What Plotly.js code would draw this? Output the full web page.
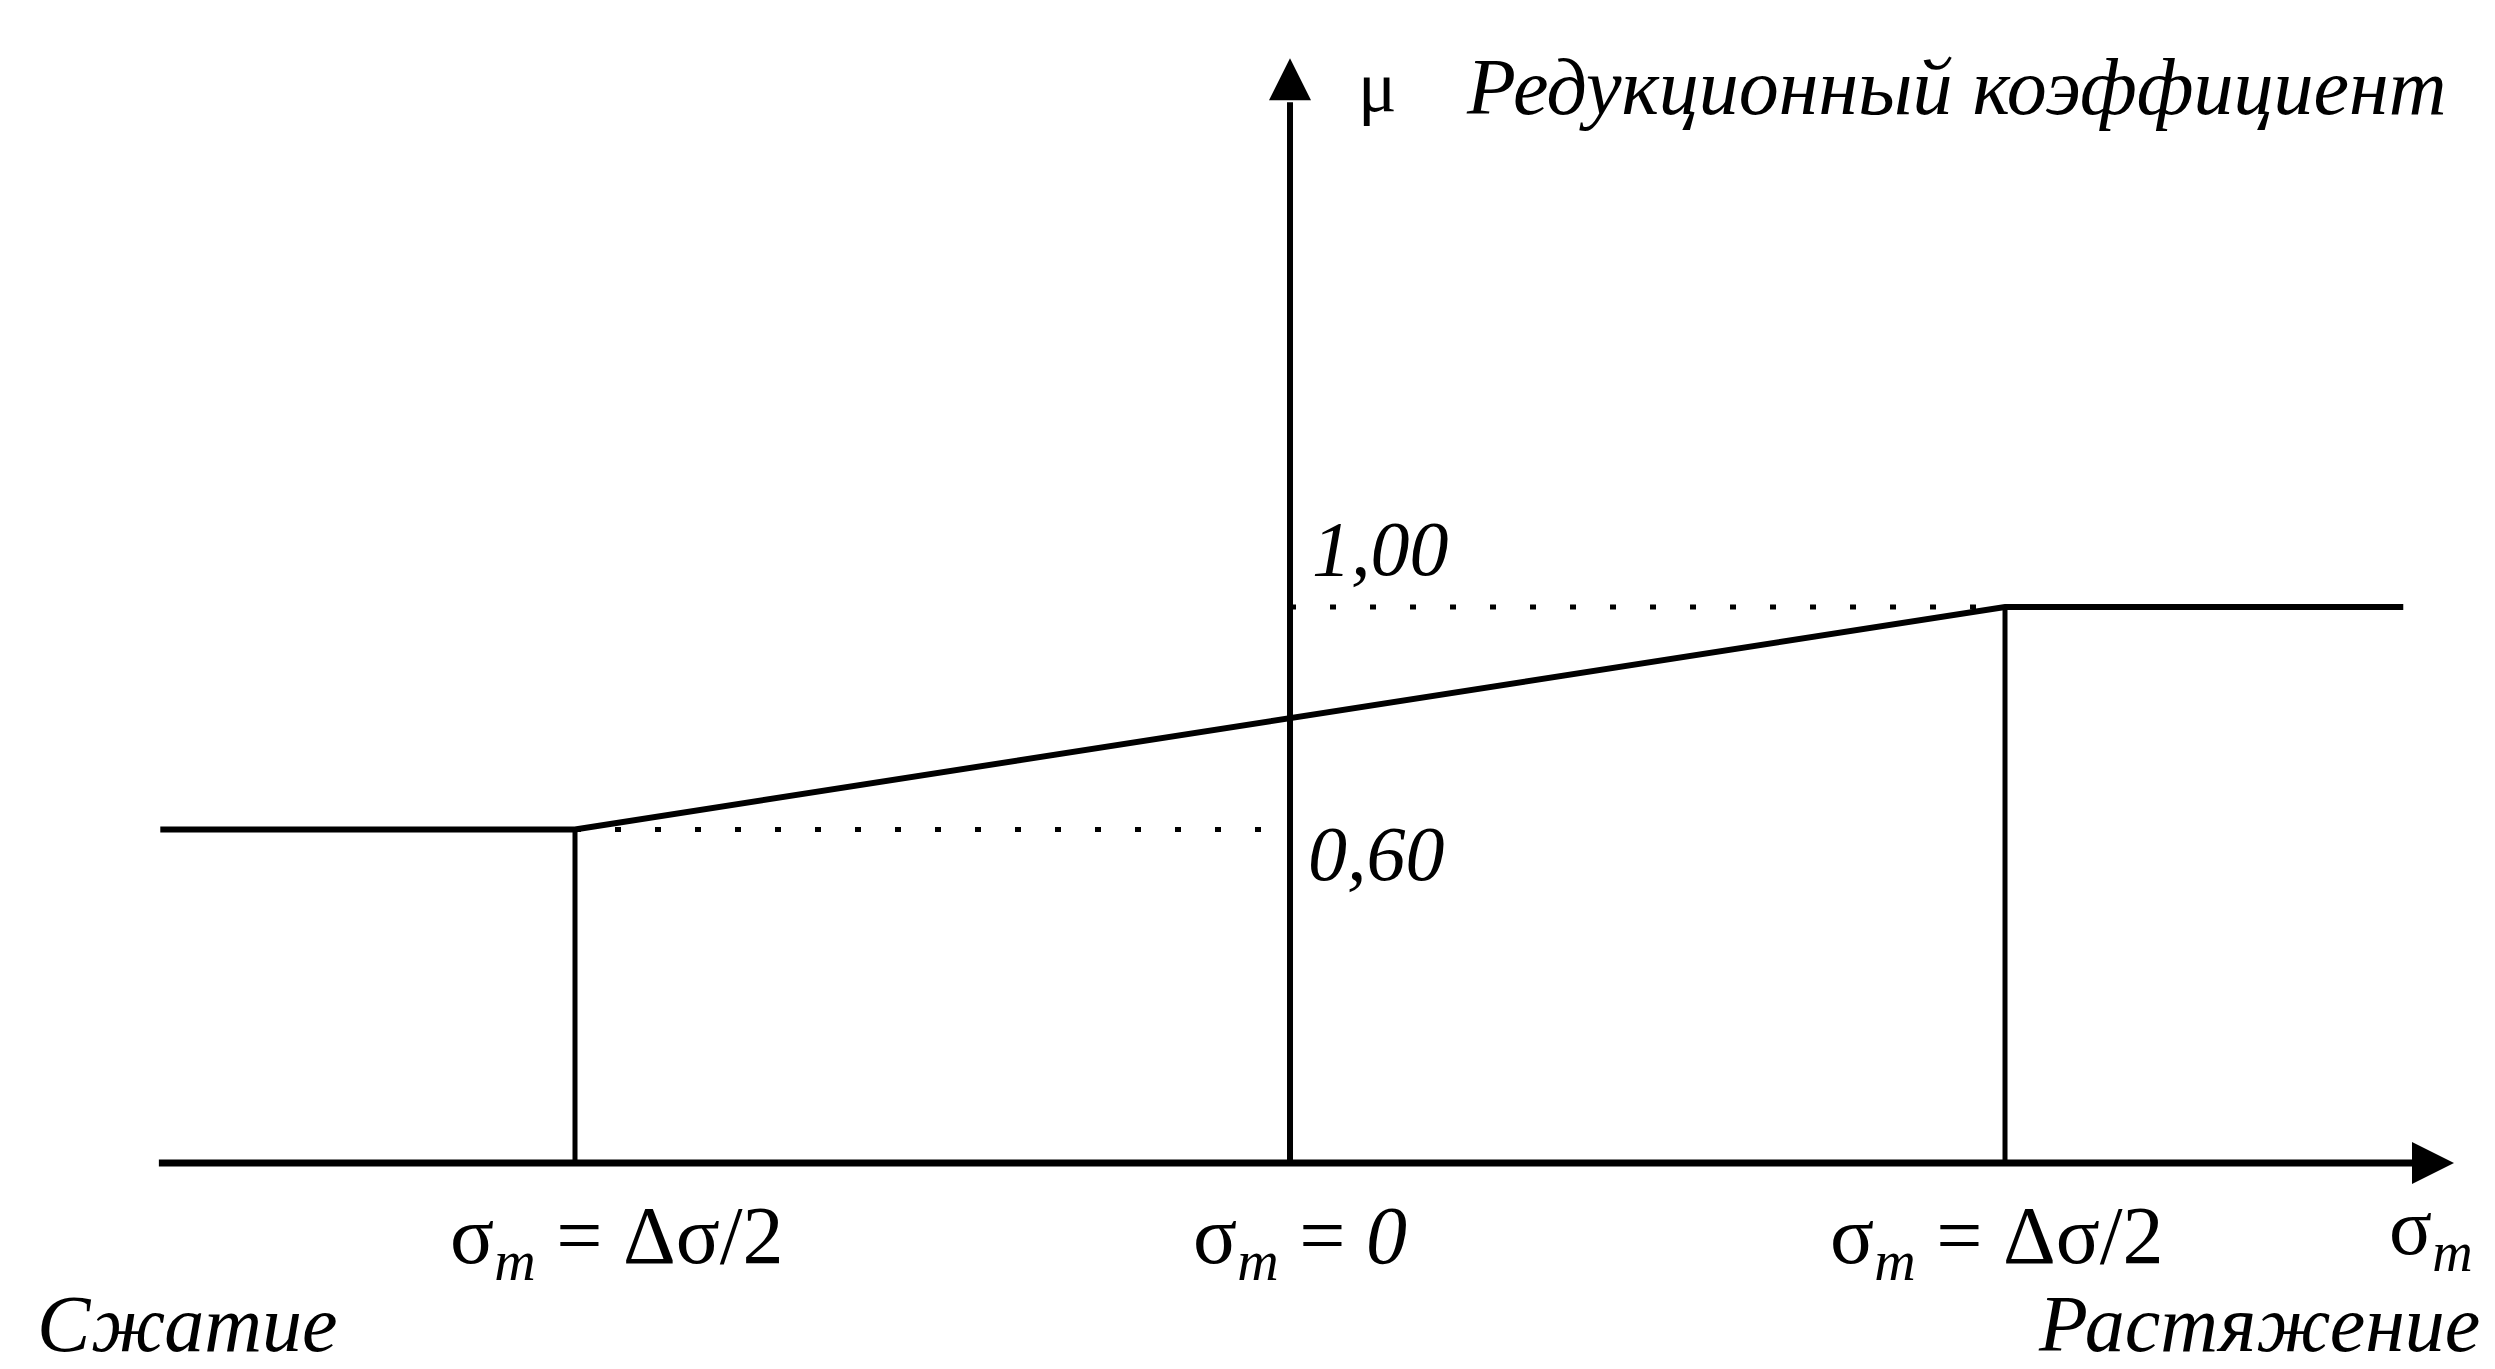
<!DOCTYPE html>
<html>
<head>
<meta charset="utf-8">
<script src="https://cdn.plot.ly/plotly-3.0.1.min.js"></script>
<style>
  html, body { margin: 0; padding: 0; background: #fff; overflow: hidden; }
  #plotArea { width: 2495px; height: 1369px; }
</style>
</head>
<body>
<div id="plotArea"></div>
<script>
// reduction coefficient mu vs mean stress sigma_m (schematic)
var sigmaM = [-1.58, -1, 1, 1.557];
var mu = [0.6, 0.6, 1.0, 1.0];

var muLow = 0.6;
var muHigh = 1.0;
var sigmaLeft = -1;
var sigmaRight = 1;

var tickVals = [-1, 0, 1];
var tickText = [
    "σ<sub><i>m</i></sub> = Δσ/2",
    "σ<sub><i>m</i></sub> = <i>0</i>",
    "σ<sub><i>m</i></sub> = Δσ/2"
];
var levelLabels = ["<i>1,00</i>", "<i>0,60</i>"];

// whole page is the plot area; axes are drawn by hand with arrows
var xRange = [-1.8042, 1.6853];
var yRange = [-0.3705, 2.0917];
var axisX = [-1.582, 1.571];
var axisY = [0, 1.908];
var tickShift = [42, 10, -8];
var serif = "Liberation Serif, Times New Roman, serif";

function line(x, y, width, dash) {
    return {
        x: x, y: y, mode: "lines",
        line: {color: "black", width: width, dash: dash || "solid"},
        hoverinfo: "skip"
    };
}

var traces = [
    line(axisX, [0, 0], 7),
    line([0, 0], axisY, 6),
    line([sigmaLeft, 0], [muLow, muLow], 5, "6px,34px"),
    line([0, sigmaRight], [muHigh, muHigh], 5, "6px,34px"),
    line([sigmaLeft, sigmaLeft], [0, muLow], 5),
    line([sigmaRight, sigmaRight], [0, muHigh], 5),
    line(sigmaM, mu, 6),
    {
        x: [0], y: [1.987], mode: "markers",
        marker: {symbol: "arrow-up", size: 42, color: "black", line: {width: 0}},
        hoverinfo: "skip"
    },
    {
        x: [1.628], y: [0], mode: "markers",
        marker: {symbol: "arrow-right", size: 42, color: "black", line: {width: 0}},
        hoverinfo: "skip"
    }
];

var annotations = tickVals.map(function(v, i) {
    return {x: v, y: -0.14, text: tickText[i], xshift: tickShift[i],
            font: {family: serif, size: 82}};
});

annotations.push(
    {x: 0.122, y: 1.935, text: "μ", font: {family: serif, size: 72}},
    {x: 0.243, y: 1.935, text: "<i>Редукционный коэффициент</i>", xanchor: "left",
     font: {family: serif, size: 80}},
    {x: 0, y: muHigh, text: levelLabels[0], xanchor: "left", xshift: 20, yshift: 58,
     font: {family: serif, size: 78}},
    {x: 0, y: muLow, text: levelLabels[1], xanchor: "left", xshift: 16, yshift: -24,
     font: {family: serif, size: 78}},
    {x: 1.534, y: -0.14, yshift: 8, text: "σ<sub><i>m</i></sub>", xanchor: "left",
     font: {family: serif, size: 80}},
    {x: -1.755, y: -0.29, text: "<i>Сжатие</i>", xanchor: "left",
     font: {family: serif, size: 80}},
    {x: 1.667, y: -0.29, text: "<i>Растяжение</i>", xanchor: "right",
     font: {family: serif, size: 80}}
);
annotations.forEach(function(a) {
    a.xref = "x";
    a.yref = "y";
    a.showarrow = false;
});

var layout = {
    width: 2495,
    height: 1369,
    margin: {l: 0, r: 0, t: 0, b: 0},
    paper_bgcolor: "white",
    plot_bgcolor: "white",
    showlegend: false,
    font: {family: serif, color: "black", size: 74},
    xaxis: {range: xRange, visible: false, fixedrange: true},
    yaxis: {range: yRange, visible: false, fixedrange: true},
    annotations: annotations
};

Plotly.newPlot("plotArea", traces, layout, {displayModeBar: false, staticPlot: true});
</script>
</body>
</html>
